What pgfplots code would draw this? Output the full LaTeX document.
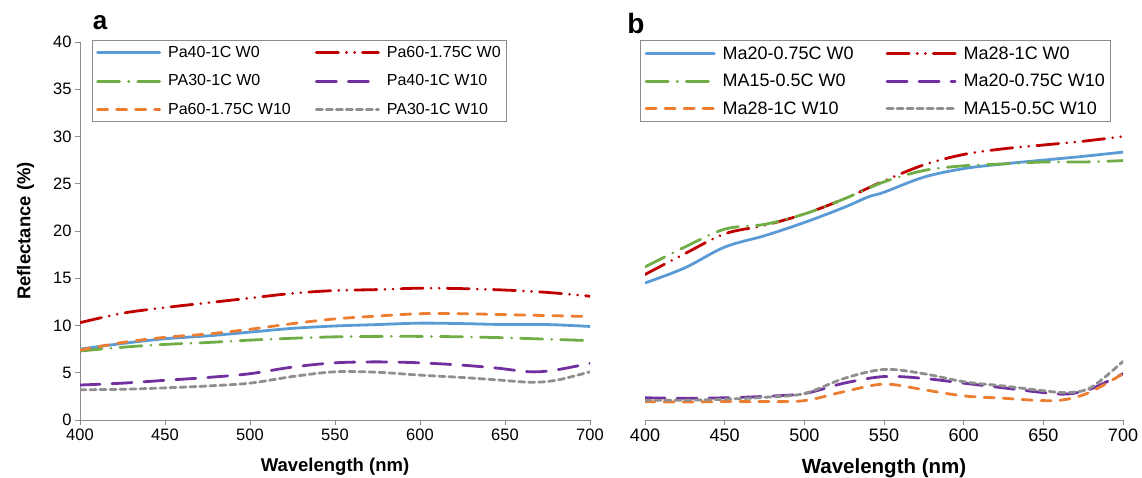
\documentclass[border=0pt]{standalone}
\usepackage{fontspec}
\setmainfont{Liberation Sans}
\usepackage{pgfplots}
\pgfplotsset{compat=1.18}
\definecolor{cBlue}{HTML}{5B9BD5}
\definecolor{cRed}{HTML}{C00000}
\definecolor{cGreen}{HTML}{70AD47}
\definecolor{cPurple}{HTML}{7030A0}
\definecolor{cOrange}{HTML}{ED7D31}
\definecolor{cGray}{HTML}{8F8F8F}
\definecolor{cAxis}{HTML}{8C8C8C}
\pgfplotsset{
  refl/.style={
    scale only axis,
    width=510pt,height=378pt,
    xmin=400,xmax=700,ymin=0,ymax=40,
    xtick={400,450,...,700},ytick={0,5,...,40},
    tick align=outside,major tick length=5pt,
    tick style={cAxis,line width=0.8pt},
    axis line style={cAxis,line width=0.9pt},
    tick label style={font=\fontsize{16.5}{18}\selectfont},
    /pgf/number format/assume math mode=true,
    xlabel={\bfseries Wavelength (nm)},
    label style={font=\fontsize{18.5}{20}\selectfont},
    xlabel style={yshift=-11pt},
    legend columns=2,
    legend cell align=left,
    legend style={draw=cAxis,line width=0.9pt,font=\fontsize{16}{18}\selectfont,
      inner xsep=4pt,inner ysep=4pt,row sep=11.5pt,
      /tikz/every odd column/.append style={column sep=5pt}},
    legend image code/.code={\draw[##1,line width=3pt,line cap=round] (0pt,0pt) -- (62pt,0pt);},
    every axis plot/.append style={line width=2.8pt,smooth,tension=0.55,line cap=round},
  },
  sBlue/.style={cBlue,solid},
  sRed/.style={cRed,dash pattern=on 22pt off 8pt on 0.1pt off 8pt on 0.1pt off 8pt},
  sGreen/.style={cGreen,dash pattern=on 22pt off 9pt on 0.1pt off 9pt},
  sPurple/.style={cPurple,dash pattern=on 20pt off 12pt},
  sOrange/.style={cOrange,dash pattern=on 10pt off 9pt},
  sGray/.style={cGray,dash pattern=on 6pt off 4pt},
}
\begin{document}
\begin{tikzpicture}[x=1pt,y=1pt]
\path[use as bounding box] (0,0) rectangle (1142,477);
\begin{axis}[refl,at={(80pt,57pt)},anchor=south west,
  axis x line*=bottom,axis y line*=left,
  ylabel={\bfseries Reflectance (\%)},ylabel style={yshift=12pt},
  legend style={at={(axis description cs:0.023,1.005)},anchor=north west,
    /tikz/every even column/.append style={column sep=22pt}}]
\addplot[sBlue] coordinates {(400,7.5)(425,8.1)(450,8.6)(475,8.9)(500,9.3)(525,9.7)(550,9.95)(575,10.1)(600,10.25)(625,10.2)(650,10.1)(675,10.1)(700,9.9)};
\addplot[sRed] coordinates {(400,10.3)(425,11.3)(450,11.9)(475,12.4)(500,12.9)(525,13.4)(550,13.7)(575,13.8)(600,13.95)(625,13.9)(650,13.75)(675,13.5)(700,13.1)};
\addplot[sGreen] coordinates {(400,7.3)(425,7.7)(450,8.0)(475,8.2)(500,8.45)(525,8.65)(550,8.8)(575,8.85)(600,8.85)(625,8.8)(650,8.7)(675,8.55)(700,8.4)};
\addplot[sPurple] coordinates {(400,3.7)(425,3.9)(450,4.2)(475,4.5)(500,4.9)(525,5.6)(550,6.05)(575,6.15)(600,6.05)(625,5.8)(645,5.5)(665,5.1)(680,5.3)(700,6.0)};
\addplot[sOrange] coordinates {(400,7.4)(425,8.2)(450,8.75)(475,9.1)(500,9.6)(525,10.2)(550,10.7)(575,11.0)(600,11.25)(625,11.25)(650,11.15)(675,11.05)(700,10.95)};
\addplot[sGray] coordinates {(400,3.2)(425,3.25)(450,3.4)(475,3.6)(500,3.9)(525,4.6)(550,5.1)(575,5.05)(600,4.75)(625,4.5)(645,4.25)(665,4.0)(680,4.2)(700,5.1)};
\legend{Pa40-1C W0,Pa60-1.75C W0,PA30-1C W0,Pa40-1C W10,Pa60-1.75C W10,PA30-1C W10}
\end{axis}
\node[font=\fontsize{26}{28}\selectfont\bfseries] at (100,454) {a};
\begin{axis}[refl,width=478pt,at={(645pt,57pt)},anchor=south west,
  axis x line*=bottom,axis y line=none,
  tick label style={font=\fontsize{18}{20}\selectfont},
  label style={font=\fontsize{20.5}{22}\selectfont},
  xlabel style={yshift=1pt},
  legend image code/.code={\draw[#1,line width=3pt,line cap=round] (0pt,0pt) -- (68pt,0pt);},
  legend style={at={(axis description cs:-0.01,1.005)},anchor=north west,
    font=\fontsize{18}{20}\selectfont,row sep=9.5pt,
    /tikz/every even column/.append style={column sep=30pt}}]
\addplot[sBlue] coordinates {(400,14.5)(425,16.1)(450,18.3)(475,19.5)(500,20.9)(525,22.5)(540,23.6)(550,24.1)(575,25.7)(600,26.6)(625,27.1)(650,27.5)(675,27.9)(700,28.35)};
\addplot[sRed] coordinates {(400,15.4)(425,17.6)(450,19.7)(475,20.6)(500,21.8)(525,23.4)(550,25.3)(575,27.0)(600,28.1)(625,28.7)(650,29.1)(675,29.5)(700,30.0)};
\addplot[sGreen] coordinates {(400,16.2)(425,18.3)(450,20.2)(475,20.7)(500,21.8)(525,23.4)(550,25.2)(575,26.4)(600,26.9)(625,27.1)(650,27.3)(675,27.3)(700,27.45)};
\addplot[sPurple] coordinates {(400,2.35)(425,2.3)(450,2.35)(475,2.5)(500,2.8)(525,3.9)(550,4.6)(575,4.4)(600,3.9)(625,3.4)(650,2.9)(665,2.75)(680,3.3)(700,4.9)};
\addplot[sOrange] coordinates {(400,1.95)(425,1.9)(450,1.95)(475,1.95)(500,2.05)(525,3.0)(550,3.8)(575,3.2)(600,2.55)(625,2.3)(650,2.05)(665,2.2)(680,3.0)(700,4.9)};
\addplot[sGray] coordinates {(400,2.1)(425,2.1)(450,2.2)(475,2.4)(500,2.8)(525,4.4)(550,5.35)(575,4.9)(600,4.05)(625,3.6)(650,3.1)(665,2.9)(680,3.45)(700,6.2)};
\legend{Ma20-0.75C W0,Ma28-1C W0,MA15-0.5C W0,Ma20-0.75C W10,Ma28-1C W10,MA15-0.5C W10}
\end{axis}
\node[font=\fontsize{28}{30}\selectfont\bfseries] at (636,454) {b};
\end{tikzpicture}
\end{document}
